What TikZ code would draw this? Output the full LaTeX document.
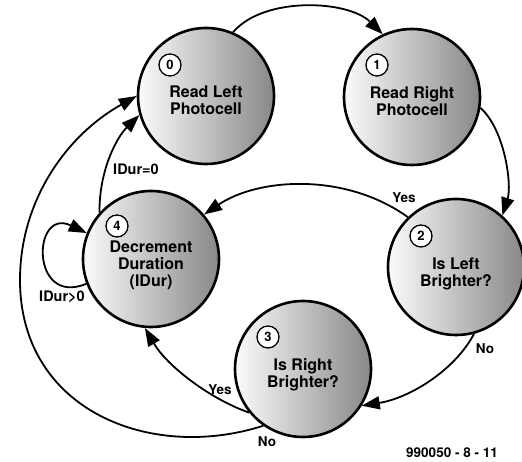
\documentclass[tikz,border=0pt]{standalone}
\usepackage{fontspec}
\setmainfont{TeX Gyre Heros}
\usetikzlibrary{arrows.meta}
\definecolor{StateLight}{HTML}{FBFBFB}
\definecolor{StateDark}{HTML}{888888}

\begin{document}
\begin{tikzpicture}[x=1pt,y=1pt,
  state/.style={circle,draw=black,line width=2.6pt,minimum size=136pt,inner sep=0pt,
    left color=StateLight,right color=StateDark},
  statetext/.style={align=center,font=\fontsize{16}{17}\selectfont\bfseries},
  numbox/.style={circle,draw=black,line width=1.3pt,fill=white,minimum size=22pt,
    inner sep=0pt,font=\fontsize{13}{13}\selectfont\bfseries},
  yesno/.style={font=\fontsize{13.5}{14}\selectfont\bfseries},
  durlabel/.style={font=\fontsize{14.5}{15}\selectfont\bfseries},
  flow/.style={line width=1.8pt,-{Triangle[length=18pt,width=13pt]}}]
\useasboundingbox (0,0) rectangle (522,462);

% states
\node[state] (n0) at (206,366) {};
\node[state] (n1) at (412,365) {};
\node[state] (n2) at (456,195) {};
\node[state] (n3) at (303,93) {};
\node[state] (n4) at (151,203) {};

\node[statetext] (t0) at ([yshift=-4pt]n0.center) {Read Left\\Photocell};
\node[statetext] (t1) at ([yshift=-4pt]n1.center) {Read Right\\Photocell};
\node[statetext] (t2) at ([yshift=-7pt]n2.center) {Is Left\\Brighter?};
\node[statetext] (t3) at ([yshift=-6pt]n3.center) {Is Right\\Brighter?};
\node[statetext] (t4) at ([yshift=-6pt]n4.center) {Decrement\\Duration\\(IDur)};

\node[numbox] (c0) at ([shift={(-36pt,31pt)}]n0.center) {0};
\node[numbox] (c1) at ([shift={(-35pt,32pt)}]n1.center) {1};
\node[numbox] (c2) at ([shift={(-35pt,31pt)}]n2.center) {2};
\node[numbox] (c3) at ([shift={(-35pt,32pt)}]n3.center) {3};
\node[numbox] (c4) at ([shift={(-34pt,33pt)}]n4.center) {4};

% transitions
\draw[flow] (n0.67) .. controls (264,466) and (348,462) .. (n1.115);
\draw[flow] (n1.-9) .. controls (505,332) and (512,277) .. (n2.48);
\draw[flow] (n2.134) .. controls (345,290) and (258,284) .. (n4.40);
\draw[flow] (n2.-75) .. controls (455,92) and (410,64) .. (n3.-32);
\draw[flow] (n3.-141) .. controls (210,63) and (167,96) .. (n4.-95);
\draw[flow] (n3.-125) .. controls (150,0) and (20,52) .. (20,182)
  .. controls (20,262) and (67,327) .. (n0.180);
\draw[flow] (n4.138) .. controls (99,292) and (117,325) .. (n0.196);
\draw[flow] (n4.201) .. controls (30,155) and (32,255) .. (n4.158);

% labels
\node[yesno] (l2y) at (404,264) {Yes};
\node[yesno] (l2n) at (485,113) {No};
\node[yesno] (l3y) at (220,72) {Yes};
\node[yesno] (l3n) at (267,20) {No};
\node[durlabel] (l4z) at (136,293) {IDur=0};
\node[durlabel] (l4p) at (62,165) {IDur>0};
\node[yesno] (code) at (452,9) {990050 - 8 - 11};
\end{tikzpicture}
\end{document}
